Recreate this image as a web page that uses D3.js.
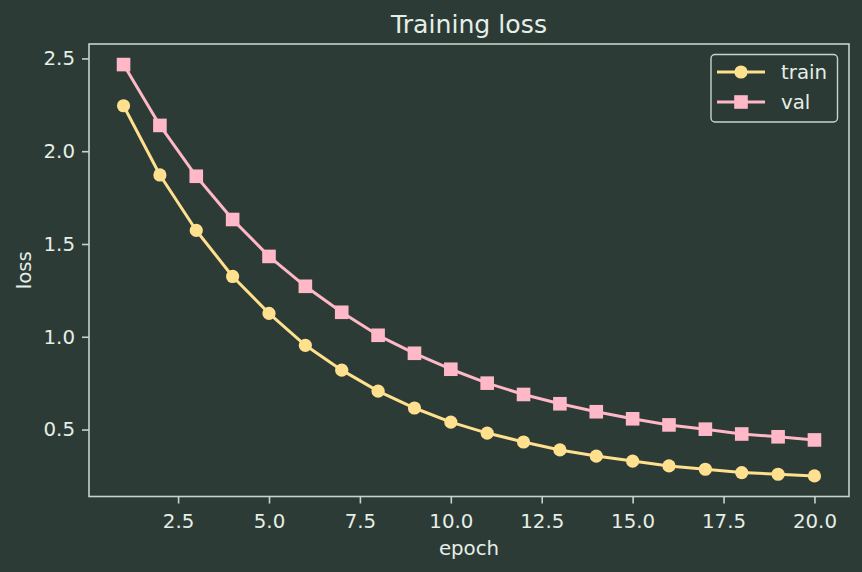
<!DOCTYPE html>
<html><head><meta charset="utf-8">
<script src="https://cdn.jsdelivr.net/npm/d3@7"></script>
<style>html,body{margin:0;padding:0;background:#2c3b35;}svg{display:block;}</style>
</head><body>
<svg id="chart" width="862" height="572"></svg>
<script>
const epochs = [1,2,3,4,5,6,7,8,9,10,11,12,13,14,15,16,17,18,19,20];
const trainLoss = [2.245,1.872,1.573,1.325,1.126,0.954,0.820,0.707,0.616,0.540,0.481,0.433,0.390,0.357,0.330,0.304,0.286,0.268,0.259,0.250];
const valLoss = [2.467,2.139,1.865,1.632,1.433,1.272,1.132,1.008,0.911,0.825,0.750,0.689,0.639,0.596,0.558,0.525,0.502,0.476,0.461,0.444];
const xTicks = [2.5,5.0,7.5,10.0,12.5,15.0,17.5,20.0];
const yTicks = [0.5,1.0,1.5,2.0,2.5];
const seriesNames = ["train","val"];

const BG = "#2c3b35", FG = "#e6eee8", SPINE = "#c5d5ca";
const TRAIN_C = "#ffe08f", VAL_C = "#ffb8c8";
const FS = 19.8;
const font = "DejaVu Sans, sans-serif";

const svg = d3.select("#chart");
svg.append("rect").attr("width",862).attr("height",572).attr("fill",BG);

const L = 89, R = 849, T = 44, B = 496.5;
const xMin = d3.min(epochs), xMax = d3.max(epochs), xPad = (xMax-xMin)*0.05;
const allY = trainLoss.concat(valLoss);
const yMin = d3.min(allY), yMax = d3.max(allY), yPad = (yMax-yMin)*0.05;
const x = d3.scaleLinear().domain([xMin-xPad, xMax+xPad]).range([L,R]);
const y = d3.scaleLinear().domain([yMin-yPad, yMax+yPad]).range([B,T]);

// axes
const xAxis = svg.append("g").attr("transform",`translate(0,${B})`)
  .call(d3.axisBottom(x).tickValues(xTicks).tickFormat(d3.format(".1f")).tickSize(7).tickPadding(6));
const yAxis = svg.append("g").attr("transform",`translate(${L},0)`)
  .call(d3.axisLeft(y).tickValues(yTicks).tickFormat(d3.format(".1f")).tickSize(7).tickPadding(7));
[xAxis,yAxis].forEach(g=>{
  g.select(".domain").remove();
  g.selectAll(".tick line").attr("stroke",SPINE).attr("stroke-width",1.6);
  g.selectAll(".tick text").attr("fill",FG).attr("font-family",font).attr("font-size",FS);
});
xAxis.selectAll(".tick text").attr("dy","0.95em");

// spines
svg.append("rect").attr("x",L).attr("y",T).attr("width",R-L).attr("height",B-T)
  .attr("fill","none").attr("stroke",SPINE).attr("stroke-width",1.6);

// title and labels
svg.append("text").attr("x",(L+R)/2).attr("y",33).attr("text-anchor","middle")
  .attr("fill",FG).attr("font-family",font).attr("font-size",25.2).text("Training loss");
svg.append("text").attr("x",(L+R)/2).attr("y",555).attr("text-anchor","middle")
  .attr("fill",FG).attr("font-family",font).attr("font-size",FS).text("epoch");
svg.append("text").attr("transform",`translate(31,${(T+B)/2}) rotate(-90)`).attr("text-anchor","middle")
  .attr("fill",FG).attr("font-family",font).attr("font-size",FS).text("loss");

const line = d3.line().x((d,i)=>x(epochs[i])).y(d=>y(d));
const plot = svg.append("g");

function drawSeries(vals,color,shape){
  plot.append("path").datum(vals).attr("d",line).attr("fill","none")
    .attr("stroke",color).attr("stroke-width",3).attr("stroke-linejoin","round");
  const g = plot.append("g");
  if(shape==="circle"){
    g.selectAll("circle").data(vals).join("circle")
      .attr("cx",(d,i)=>x(epochs[i])).attr("cy",d=>y(d)).attr("r",6.6).attr("fill",color);
  } else {
    g.selectAll("rect").data(vals).join("rect")
      .attr("x",(d,i)=>x(epochs[i])-6.8).attr("y",d=>y(d)-6.8)
      .attr("width",13.6).attr("height",13.6).attr("fill",color);
  }
}
drawSeries(trainLoss,TRAIN_C,"circle");
drawSeries(valLoss,VAL_C,"square");

// legend
const lg = svg.append("g");
lg.append("rect").attr("x",711).attr("y",54.5).attr("width",126.5).attr("height",67.5).attr("rx",4)
  .attr("fill",BG).attr("fill-opacity",0.8).attr("stroke",SPINE).attr("stroke-width",1.4);
const colors = [TRAIN_C,VAL_C];
seriesNames.forEach((name,i)=>{
  const cy = 72 + i*30;
  lg.append("line").attr("x1",717).attr("x2",765).attr("y1",cy).attr("y2",cy)
    .attr("stroke",colors[i]).attr("stroke-width",3);
  if(i===0) lg.append("circle").attr("cx",741).attr("cy",cy).attr("r",6.6).attr("fill",colors[i]);
  else lg.append("rect").attr("x",741-6.8).attr("y",cy-6.8).attr("width",13.6).attr("height",13.6).attr("fill",colors[i]);
  lg.append("text").attr("x",781).attr("y",cy+7).attr("fill",FG).attr("font-family",font)
    .attr("font-size",FS).text(name);
});
</script>
</body></html>
